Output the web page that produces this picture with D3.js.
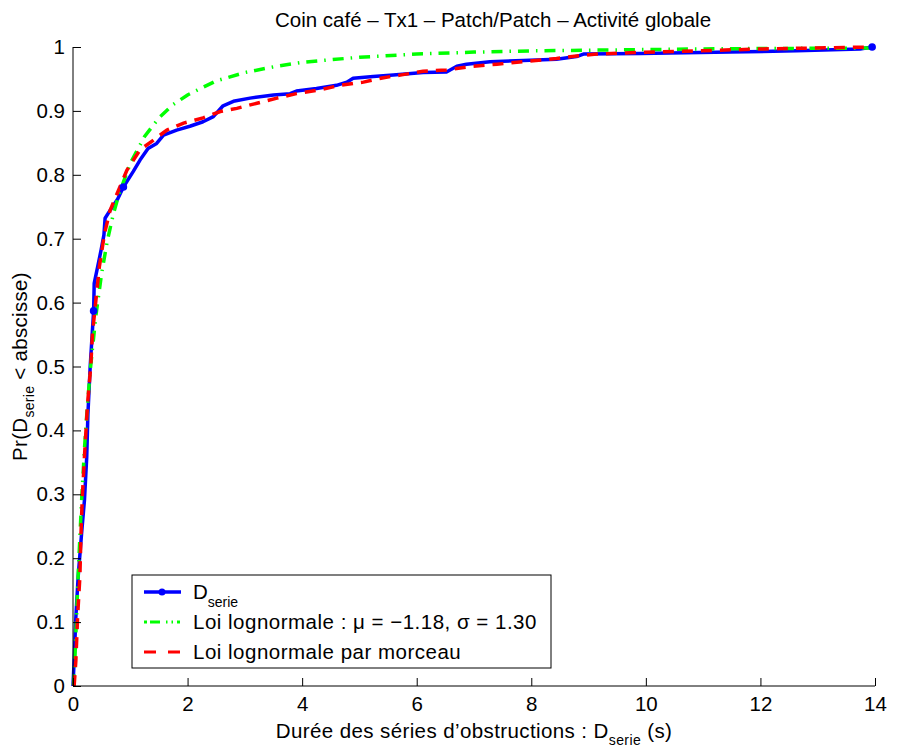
<!DOCTYPE html>
<html>
<head>
<meta charset="utf-8">
<script src="https://cdn.jsdelivr.net/npm/d3@7"></script>
<style>
  body { margin: 0; background: #fff; }
  svg { font-family: "Liberation Sans", Arial, Helvetica, sans-serif; }
</style>
</head>
<body>
<svg id="chart" width="899" height="747"></svg>
<script>
// ---- data ----
const titleText = "Coin café – Tx1 – Patch/Patch – Activité globale";
const xTicks = [0, 2, 4, 6, 8, 10, 12, 14];
const yTicks = [0, 0.1, 0.2, 0.3, 0.4, 0.5, 0.6, 0.7, 0.8, 0.9, 1];
const yTickLabels = ["0", "0.1", "0.2", "0.3", "0.4", "0.5", "0.6", "0.7", "0.8", "0.9", "1"];

// empirical CDF (D_serie)
const blueX = [0.00, 0.02, 0.05, 0.09, 0.15, 0.20, 0.24, 0.26, 0.30, 0.36, 0.37, 0.43, 0.49, 0.54, 0.56, 0.63, 0.78, 0.88, 1.05, 1.17, 1.31, 1.46, 1.58, 1.81, 2.04, 2.27, 2.45, 2.62, 2.80, 3.09, 3.50, 3.79, 3.90, 4.25, 4.60, 4.78, 4.89, 5.24, 5.59, 6.11, 6.52, 6.70, 6.87, 7.28, 7.86, 8.44, 8.79, 8.91, 9.90, 11.47, 12.63, 13.74, 13.95];
const blueY = [0.000, 0.040, 0.108, 0.171, 0.239, 0.291, 0.359, 0.425, 0.500, 0.587, 0.630, 0.656, 0.682, 0.706, 0.732, 0.742, 0.762, 0.781, 0.805, 0.823, 0.841, 0.849, 0.862, 0.870, 0.876, 0.883, 0.891, 0.908, 0.915, 0.920, 0.925, 0.927, 0.931, 0.935, 0.940, 0.945, 0.951, 0.954, 0.956, 0.960, 0.961, 0.970, 0.973, 0.977, 0.979, 0.981, 0.985, 0.989, 0.990, 0.992, 0.994, 0.997, 1.000];
// points of the empirical curve that carry a marker
const blueMarkX = [0.36, 0.88, 13.95];
const blueMarkY = [0.587, 0.781, 1.000];

// lognormal fit (mu = -1.18, sigma = 1.30)
const greenX = [0.005, 0.01, 0.02, 0.03, 0.05, 0.075, 0.10, 0.15, 0.20, 0.25, 0.30, 0.40, 0.50, 0.60, 0.70, 0.80, 1.00, 1.25, 1.50, 1.75, 2.00, 2.50, 3.00, 3.50, 4.00, 5.00, 6.00, 7.00, 8.00, 9.00, 10.0, 11.0, 12.0, 13.0, 13.95];
const greenY = [0.001, 0.004, 0.018, 0.037, 0.081, 0.139, 0.194, 0.290, 0.371, 0.437, 0.493, 0.580, 0.646, 0.697, 0.737, 0.769, 0.818, 0.860, 0.889, 0.910, 0.925, 0.947, 0.960, 0.969, 0.976, 0.984, 0.989, 0.992, 0.994, 0.995, 0.996, 0.997, 0.9976, 0.998, 0.9983];

// piecewise lognormal fit
const redX = [0.02, 0.05, 0.08, 0.12, 0.14, 0.16, 0.20, 0.24, 0.26, 0.31, 0.34, 0.40, 0.46, 0.55, 0.65, 0.94, 1.17, 1.40, 1.64, 1.93, 2.27, 2.57, 2.86, 3.21, 3.56, 3.90, 4.31, 4.66, 5.07, 5.42, 5.71, 6.11, 6.52, 6.99, 7.40, 7.86, 8.44, 8.79, 9.14, 9.72, 10.9, 12.05, 13.95];
const redY = [0.000, 0.040, 0.108, 0.171, 0.239, 0.291, 0.359, 0.421, 0.448, 0.500, 0.552, 0.604, 0.656, 0.708, 0.745, 0.807, 0.839, 0.854, 0.870, 0.881, 0.889, 0.899, 0.904, 0.912, 0.920, 0.927, 0.933, 0.940, 0.945, 0.952, 0.956, 0.962, 0.964, 0.970, 0.973, 0.977, 0.982, 0.986, 0.989, 0.991, 0.994, 0.997, 1.000];

const legendLabels = ["D", "Loi lognormale : μ = −1.18, σ = 1.30", "Loi lognormale par morceau"];

// ---- drawing ----
const svg = d3.select("#chart");
const mLeft = 73, mRight = 875, mTop = 47, mBottom = 686;
const FS = 20.5, SUB = 14;
const x = d3.scaleLinear().domain([0, 14]).range([mLeft, mRight]);
const y = d3.scaleLinear().domain([0, 1]).range([mBottom, mTop]);

const zip = (xs, ys) => xs.map((v, i) => [v, ys[i]]);
const line = d3.line().x(d => x(d[0])).y(d => y(d[1]));

// curves
svg.append("path").datum(zip(blueX, blueY)).attr("d", line)
  .attr("fill", "none").attr("stroke", "#0000ff").attr("stroke-width", 3.5)
  .attr("stroke-linejoin", "round");
svg.append("path").datum(zip(greenX, greenY)).attr("d", line)
  .attr("fill", "none").attr("stroke", "#00ff00").attr("stroke-width", 3.5)
  .attr("stroke-dasharray", "11,7,1.5,7");
svg.append("path").datum(zip(redX, redY)).attr("d", line)
  .attr("fill", "none").attr("stroke", "#ff0000").attr("stroke-width", 3.5)
  .attr("stroke-dasharray", "11,8");
svg.selectAll("circle.mk").data(zip(blueMarkX, blueMarkY)).enter().append("circle")
  .attr("class", "mk").attr("cx", d => x(d[0])).attr("cy", d => y(d[1])).attr("r", 3.8)
  .attr("fill", "#0000ff");

// axes
const xAxis = d3.axisBottom(x).tickValues(xTicks).tickSize(-8).tickPadding(10).tickFormat(d3.format("d"));
const gx = svg.append("g").attr("transform", `translate(0,${mBottom})`).call(xAxis);
gx.select(".domain").attr("d", `M${mLeft},0H${mRight}`);
const yAxis = d3.axisLeft(y).tickValues(yTicks).tickSize(-8).tickPadding(8).tickFormat((d, i) => yTickLabels[i]);
const gy = svg.append("g").attr("transform", `translate(${mLeft},0)`).call(yAxis);
gy.select(".domain").attr("d", `M0,${mBottom}V${mTop}`);
svg.selectAll(".tick text").attr("font-size", FS).attr("font-family", "Liberation Sans, Arial, sans-serif").attr("fill", "#000");
svg.selectAll(".domain, .tick line").attr("stroke", "#000");

// title
svg.append("text").attr("x", 493).attr("y", 27).attr("text-anchor", "middle")
  .attr("font-size", FS).text(titleText);

// x label
const xl = svg.append("text").attr("x", (mLeft + mRight) / 2).attr("y", 738).attr("text-anchor", "middle")
  .attr("font-size", FS).attr("letter-spacing", 0.4);
xl.append("tspan").text("Durée des séries d’obstructions : D");
xl.append("tspan").attr("font-size", SUB).attr("dy", 7).text("serie");
xl.append("tspan").attr("dy", -7).text(" (s)");

// y label
const yl = svg.append("text").attr("transform", `translate(27,${(mTop + mBottom) / 2}) rotate(-90)`)
  .attr("text-anchor", "middle").attr("font-size", FS).attr("letter-spacing", 0.3);
yl.append("tspan").text("Pr(D");
yl.append("tspan").attr("font-size", SUB).attr("dy", 7).text("serie");
yl.append("tspan").attr("dy", -7).text(" < abscisse)");

// legend
const lg = svg.append("g");
lg.append("rect").attr("x", 132).attr("y", 575).attr("width", 419).attr("height", 93)
  .attr("fill", "#fff").attr("stroke", "#000").attr("stroke-width", 1);
const rowY = [592, 622, 652];
lg.append("line").attr("x1", 144).attr("x2", 181).attr("y1", rowY[0]).attr("y2", rowY[0])
  .attr("stroke", "#0000ff").attr("stroke-width", 3.5);
lg.append("circle").attr("cx", 162).attr("cy", rowY[0]).attr("r", 3.5).attr("fill", "#0000ff");
lg.append("line").attr("x1", 144).attr("x2", 181).attr("y1", rowY[1]).attr("y2", rowY[1])
  .attr("stroke", "#00ff00").attr("stroke-width", 3).attr("stroke-dasharray", "3,3,10,6,1.5,4,1.5,4");
lg.append("line").attr("x1", 144).attr("x2", 181).attr("y1", rowY[2]).attr("y2", rowY[2])
  .attr("stroke", "#ff0000").attr("stroke-width", 3).attr("stroke-dasharray", "12,12");
const t0 = lg.append("text").attr("x", 193).attr("y", rowY[0] + 7).attr("font-size", FS);
t0.append("tspan").text(legendLabels[0]);
t0.append("tspan").attr("font-size", SUB).attr("dy", 8).text("serie");
lg.append("text").attr("x", 193).attr("y", rowY[1] + 7).attr("font-size", FS).attr("letter-spacing", 0.5).text(legendLabels[1]);
lg.append("text").attr("x", 193).attr("y", rowY[2] + 7).attr("font-size", FS).attr("letter-spacing", 0.5).text(legendLabels[2]);
</script>
</body>
</html>
